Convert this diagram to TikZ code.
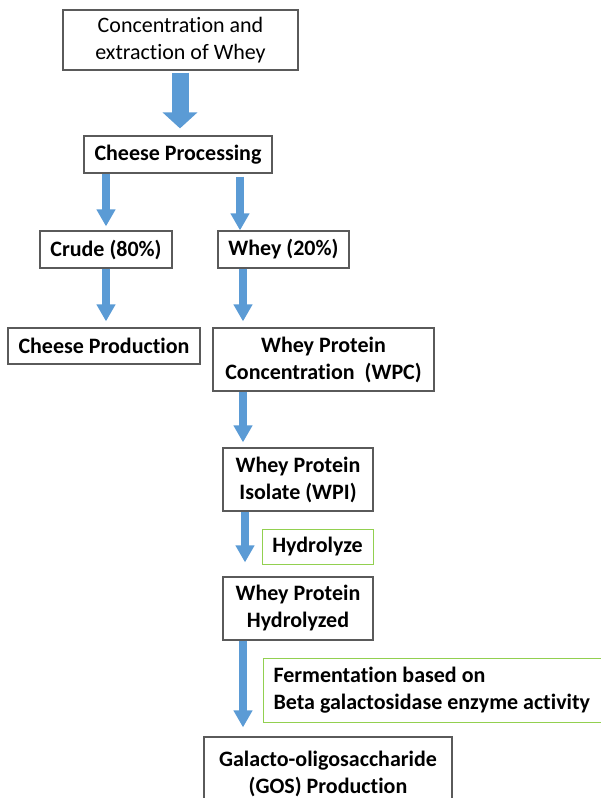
\documentclass[tikz,border=0pt]{standalone}
\usepackage{fontspec}
\setmainfont[Ligatures={NoCommon}]{Carlito}
\usepackage{tikz}
\usepackage{xcolor}
\usetikzlibrary{arrows.meta,positioning,calc}
\definecolor{FlowBlue}{RGB}{91,155,213}
\definecolor{NoteGreen}{RGB}{146,208,80}
\definecolor{EdgeGray}{RGB}{90,90,90}
\tikzset{
  stepbox/.style={draw=EdgeGray, line width=1.2pt, align=center, inner sep=0pt, font=\fontsize{22}{27}\selectfont\bfseries},
  notebox/.style={draw=NoteGreen, line width=1pt, inner sep=0pt, font=\fontsize{22}{27}\selectfont\bfseries},
  flow/.style={draw=FlowBlue, line width=8pt, -{Triangle[width=18pt,length=17pt]}, FlowBlue},
  bigflow/.style={draw=FlowBlue, line width=17pt, -{Triangle[width=34pt,length=16pt]}, FlowBlue}
}

\begin{document}
\begin{tikzpicture}[x=1pt, y=-1pt]
\useasboundingbox (0,0) rectangle (600,798);
\node[stepbox, font=\fontsize{22}{27}\selectfont, minimum width=235pt, minimum height=60pt] (src) at (180.5,40) {Concentration and\\extraction of Whey};
\node[stepbox, minimum width=188pt, minimum height=37pt] (proc) at (178,154.5) {Cheese Processing};
\node[stepbox, minimum width=132pt, minimum height=37pt] (crude) at (106,249.5) {Crude (80\%)};
\node[stepbox, minimum width=131pt, minimum height=37pt] (whey) at (283.5,249.5) {Whey (20\%)};
\node[stepbox, minimum width=192pt, minimum height=36pt] (cprod) at (104,346) {Cheese Production};
\node[stepbox, minimum width=221pt, minimum height=63pt] (wpc) at (323.5,359.5) {Whey Protein\\Concentration\ \ (WPC)};
\node[stepbox, minimum width=150pt, minimum height=63pt] (wpi) at (298,479.5) {Whey Protein\\Isolate (WPI)};
\node[notebox, minimum width=111pt, minimum height=35pt] (hyd) at (317.5,546.5) {Hydrolyze};
\node[stepbox, minimum width=150pt, minimum height=63pt] (wph) at (298,608.5) {Whey Protein\\Hydrolyzed};
\node[notebox, anchor=west, align=flush left, text width=327pt, inner xsep=10pt, minimum height=64pt] (ferm) at (263,690) {Fermentation based on\\Beta galactosidase enzyme activity};
\node[stepbox, minimum width=248pt, minimum height=73pt] (gos) at (328,773.5) {Galacto-oligosaccharide\\(GOS) Production};

% arrows
\draw[bigflow, shorten <=2pt, shorten >=7pt] (src.south -| 180,0) -- (proc.north -| 180,0);
\draw[flow, shorten >=4pt] (proc.south -| crude) -- (crude);
\draw[flow, shorten <=3pt] (proc.south -| 240,0) -- (whey.north -| 240,0);
\draw[flow, shorten >=6pt] (crude.south) -- (cprod.north -| crude.south);
\draw[flow, shorten >=6pt] (whey.south -| 243,0) -- (wpc.north -| 243,0);
\draw[flow, shorten >=5pt] (wpc.south -| 243,0) -- (wpi.north -| 243,0);
\draw[flow, shorten >=14pt] (wpi.south -| 245,0) -- (wph.north -| 245,0);
\draw[flow, shorten >=9pt] (wph.south -| 243,0) -- (gos.north -| 243,0);
\end{tikzpicture}
\end{document}
